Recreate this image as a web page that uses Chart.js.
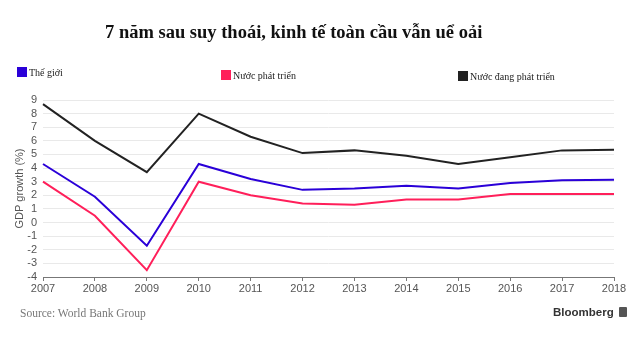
<!DOCTYPE html>
<html>
<head>
<meta charset="utf-8">
<script src="https://cdn.jsdelivr.net/npm/chart.js@4"></script>
<style>
  html, body { margin: 0; padding: 0; background: #fff; }
  #wrap { position: relative; width: 640px; height: 338px; overflow: hidden; }
  #chart { position: absolute; left: 0; top: 0; }
  .title { position: absolute; left: 105px; top: 22px; font: bold 18.5px "Liberation Serif", "Times New Roman", serif; color: #111; white-space: nowrap; }
  .leg { position: absolute; font: 10px "Liberation Serif", "Times New Roman", serif; color: #222; white-space: nowrap; line-height: 10px; }
  .leg i { display: inline-block; width: 10px; height: 10px; vertical-align: -1px; margin-right: 2px; }
  .source { position: absolute; left: 20px; top: 307px; font: 11.5px "Liberation Serif", serif; color: #777; }
  .brand { position: absolute; left: 553px; top: 306px; font: bold 11.5px "Liberation Sans", Arial, sans-serif; color: #333; }
  .brand b { display: inline-block; width: 8px; height: 10px; background: #555; margin-left: 5px; vertical-align: -1px; border-radius: 1px; }
</style>
</head>
<body>
<div id="wrap">
  <canvas id="chart" width="640" height="338"></canvas>
  <div class="title">7 năm sau suy thoái, kinh tế toàn cầu vẫn uể oải</div>
  <div class="leg" style="left:17px;top:67px"><i style="background:#2a00d8"></i>Thế giới</div>
  <div class="leg" style="left:221px;top:70px"><i style="background:#ff1f5a"></i>Nước phát triển</div>
  <div class="leg" style="left:458px;top:71px"><i style="background:#222"></i>Nước đang phát triển</div>
  <div class="source">Source: World Bank Group</div>
  <div class="brand">Bloomberg<b></b></div>
</div>
<script>
const years = ['2007','2008','2009','2010','2011','2012','2013','2014','2015','2016','2017','2018'];
const world = [4.3, 1.9, -1.7, 4.3, 3.2, 2.4, 2.5, 2.7, 2.5, 2.9, 3.1, 3.15];
const developed = [3.0, 0.5, -3.5, 3.0, 2.0, 1.4, 1.3, 1.7, 1.7, 2.1, 2.1, 2.1];
const developing = [8.7, 6.0, 3.7, 8.0, 6.3, 5.1, 5.3, 4.9, 4.3, 4.8, 5.3, 5.35];
const seriesNames = ['Thế giới', 'Nước phát triển', 'Nước đang phát triển'];
const seriesColors = ['#2a00d8', '#ff1f5a', '#222222'];

const tickFont = { family: '"Liberation Sans", Arial, sans-serif', size: 11 };

new Chart(document.getElementById('chart'), {
  type: 'line',
  data: {
    labels: years,
    datasets: [world, developed, developing].map((d, i) => ({
      label: seriesNames[i],
      data: d,
      borderColor: seriesColors[i],
      backgroundColor: seriesColors[i],
      borderWidth: 2,
      pointRadius: 0,
      tension: 0,
    })),
  },
  options: {
    responsive: false,
    animation: false,
    layout: { padding: { top: 100, right: 26, bottom: 41, left: 0 } },
    plugins: { legend: { display: false }, tooltip: { enabled: false } },
    scales: {
      x: {
        offset: false,
        grid: { drawOnChartArea: false, drawTicks: true, tickLength: 4, color: '#777' },
        border: { color: '#777', width: 1 },
        ticks: { color: '#555', font: tickFont, padding: 1, maxRotation: 0, autoSkip: false },
        afterFit: (s) => { s.height = 20; },
      },
      y: {
        min: -4, max: 9,
        grid: { color: '#e9e9e9', drawTicks: false },
        border: { display: false },
        ticks: { stepSize: 1, autoSkip: false, color: '#555', font: tickFont, padding: 6 },
        title: { display: true, text: 'GDP growth (%)', color: '#555', font: tickFont, padding: { top: 13, bottom: 0 } },
        afterFit: (s) => { s.width = 43; },
      },
    },
  },
});
</script>
</body>
</html>
